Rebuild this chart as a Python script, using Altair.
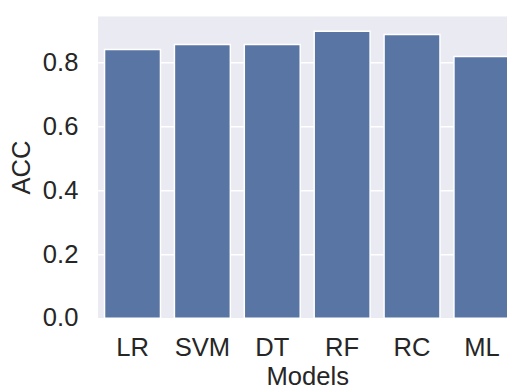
import altair as alt
import pandas as pd

models = ["LR", "SVM", "DT", "RF", "RC", "ML"]
acc = [0.840, 0.856, 0.856, 0.897, 0.887, 0.818]
y_ticks = [0.0, 0.2, 0.4, 0.6, 0.8]

df = pd.DataFrame({"Models": models, "ACC": acc})

FONT = "Liberation Sans"
TXT = "#262626"
FS = 26

chart = alt.Chart(df).mark_bar(
    color="#5975A4", stroke="white", strokeWidth=1.5, clip=True
).encode(
    x=alt.X(
        "Models:N", sort=models,
        scale=alt.Scale(range=[0, 426], paddingInner=0.2, paddingOuter=0.1),
        axis=alt.Axis(labelAngle=0, ticks=False, domain=False, grid=False,
                      labelPadding=17, titleY=67, titleBaseline="alphabetic",
                      labelFontSize=FS, titleFontSize=FS,
                      labelFont=FONT, titleFont=FONT,
                      labelColor=TXT, titleColor=TXT, titleFontWeight="normal"),
    ),
    y=alt.Y(
        "ACC:Q",
        scale=alt.Scale(domain=[0, 0.945], nice=False, zero=True),
        axis=alt.Axis(values=y_ticks, format=".1f", ticks=False, domain=False,
                      grid=True, gridColor="white", gridWidth=1.5,
                      labelPadding=20, titlePadding=8,
                      labelFontSize=FS, titleFontSize=FS,
                      labelFont=FONT, titleFont=FONT,
                      labelColor=TXT, titleColor=TXT, titleFontWeight="normal"),
    ),
).properties(
    width=416, height=307,
    autosize=alt.AutoSizeParams(type="none"),
    padding={"left": 91, "top": 5, "right": 0, "bottom": 74},
    background="white",
).configure_view(fill="#EAEAF2", stroke="transparent")

chart.save("out.html", embed_options={"renderer": "svg", "actions": False})
